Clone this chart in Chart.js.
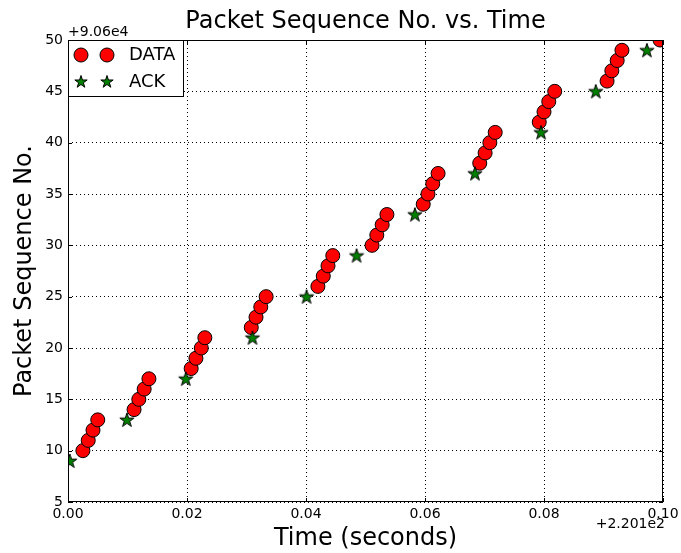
<!DOCTYPE html>
<html>
<head>
<meta charset="utf-8">
<script src="https://cdn.jsdelivr.net/npm/chart.js@4"></script>
<style>
  body { margin: 0; background: #fff; }
  #wrap { width: 681px; height: 553px; }
</style>
</head>
<body>
<div id="wrap"><canvas id="myChart" width="681" height="553"></canvas></div>
<script>
// time values are offsets from 220.1 s, sequence numbers offsets from 90600
var dataTimes = [0.0025, 0.0034, 0.0042, 0.0050,
                 0.0111, 0.0119, 0.0128, 0.0136,
                 0.0207, 0.0215, 0.0224, 0.0230,
                 0.0308, 0.0316, 0.0324, 0.0333,
                 0.0420, 0.0429, 0.0437, 0.0445,
                 0.0511, 0.0519, 0.0528, 0.0536,
                 0.0597, 0.0605, 0.0613, 0.0622,
                 0.0692, 0.0701, 0.0709, 0.0718,
                 0.0792, 0.0800, 0.0808, 0.0818,
                 0.0906, 0.0914, 0.0923, 0.0931,
                 0.0995];
var dataSeq = [10, 11, 12, 13,
               14, 15, 16, 17,
               18, 19, 20, 21,
               22, 23, 24, 25,
               26, 27, 28, 29,
               30, 31, 32, 33,
               34, 35, 36, 37,
               38, 39, 40, 41,
               42, 43, 44, 45,
               46, 47, 48, 49,
               50];
var ackTimes = [0.0003, 0.0099, 0.0198, 0.0310, 0.0401, 0.0485, 0.0583, 0.0684, 0.0795, 0.0887, 0.0973];
var ackSeq = [9, 13, 17, 21, 25, 29, 33, 37, 41, 45, 49];

var xTicks = [0.00, 0.02, 0.04, 0.06, 0.08, 0.10];
var yTicks = [5, 10, 15, 20, 25, 30, 35, 40, 45, 50];
var xOffsetLabel = '+2.201e2';
var yOffsetLabel = '+9.06e4';

var FONT = '"DejaVu Sans", "Liberation Sans", sans-serif';

function drawStar(c, cx, cy, r) {
  var inner = r * 0.382;
  c.beginPath();
  for (var i = 0; i < 10; i++) {
    var rr = i % 2 === 0 ? r : inner;
    var a = -Math.PI / 2 + i * Math.PI / 5;
    var px = cx + rr * Math.cos(a), py = cy + rr * Math.sin(a);
    if (i === 0) c.moveTo(px, py); else c.lineTo(px, py);
  }
  c.closePath();
  c.fillStyle = '#008000';
  c.fill();
  c.lineWidth = 1;
  c.strokeStyle = '#000';
  c.stroke();
}

var starImg = document.createElement('canvas');
starImg.width = 18;
starImg.height = 18;
drawStar(starImg.getContext('2d'), 9, 9.5, 7.5);

function toPoints(xs, ys) {
  return xs.map(function (x, i) { return { x: x, y: ys[i] }; });
}

var decorations = {
  id: 'decorations',
  afterDraw: function (chart) {
    var c = chart.ctx, a = chart.chartArea;
    var xs = chart.scales.x, ys = chart.scales.y;
    c.save();
    // frame
    c.strokeStyle = '#000';
    c.lineWidth = 1;
    c.strokeRect(a.left + 0.5, a.top + 0.5, a.right - a.left - 1, a.bottom - a.top - 1);
    // inner tick marks
    c.beginPath();
    xTicks.forEach(function (t) {
      var px = Math.round(xs.getPixelForValue(t)) + 0.5;
      c.moveTo(px, a.bottom); c.lineTo(px, a.bottom - 4);
      c.moveTo(px, a.top); c.lineTo(px, a.top + 4);
    });
    yTicks.forEach(function (t) {
      var py = Math.round(ys.getPixelForValue(t)) + 0.5;
      c.moveTo(a.left, py); c.lineTo(a.left + 4, py);
      c.moveTo(a.right, py); c.lineTo(a.right - 4, py);
    });
    c.stroke();

    // title and axis titles
    c.fillStyle = '#000';
    c.textAlign = 'center';
    c.textBaseline = 'alphabetic';
    c.font = '24px ' + FONT;
    var mid = (a.left + a.right) / 2;
    c.fillText('Packet Sequence No. vs. Time', mid, 28);
    c.fillText('Time (seconds)', mid, 545);
    c.save();
    c.translate(31, (a.top + a.bottom) / 2);
    c.rotate(-Math.PI / 2);
    c.fillText('Packet Sequence No.', 0, 0);
    c.restore();

    // offset labels
    c.font = '14px ' + FONT;
    c.textAlign = 'left';
    c.fillText(yOffsetLabel, a.left, 36);
    c.textAlign = 'right';
    c.fillText(xOffsetLabel, 665, 528);

    // legend
    c.fillStyle = '#fff';
    c.fillRect(a.left, a.top, 115, 56);
    c.strokeStyle = '#000';
    c.strokeRect(a.left + 0.5, a.top + 0.5, 115, 56);
    [81, 107].forEach(function (lx) {
      c.beginPath();
      c.arc(lx, 55, 7, 0, Math.PI * 2);
      c.fillStyle = '#ff0000';
      c.fill();
      c.strokeStyle = '#000';
      c.stroke();
      drawStar(c, lx, 82, 6.5);
    });
    c.fillStyle = '#000';
    c.font = '18px ' + FONT;
    c.textAlign = 'left';
    c.textBaseline = 'middle';
    c.fillText('DATA', 129, 55);
    c.fillText('ACK', 129, 82);
    c.restore();
  }
};

var ctx = document.getElementById('myChart');
var myChart = new Chart(ctx, {
  type: 'scatter',
  data: {
    datasets: [
      {
        label: 'ACK',
        data: toPoints(ackTimes, ackSeq),
        pointStyle: starImg,
        clip: 0,
        order: 0
      },
      {
        label: 'DATA',
        data: toPoints(dataTimes, dataSeq),
        backgroundColor: '#ff0000',
        borderColor: '#000000',
        borderWidth: 1,
        pointRadius: 7,
        pointHoverRadius: 7,
        clip: 0,
        order: 1
      }
    ]
  },
  options: {
    responsive: false,
    animation: false,
    events: [],
    layout: { padding: { left: 0, top: 40, right: 18, bottom: 0 } },
    plugins: {
      legend: { display: false },
      title: { display: false },
      tooltip: { enabled: false }
    },
    scales: {
      x: {
        type: 'linear',
        min: 0,
        max: 0.1,
        afterFit: function (s) { s.height = 51; s.paddingLeft = 0; s.paddingRight = 0; },
        afterBuildTicks: function (s) { s.ticks = xTicks.map(function (v) { return { value: v }; }); },
        ticks: {
          padding: 4,
          color: '#000',
          font: { family: FONT, size: 14 },
          callback: function (v) { return Number(v).toFixed(2); }
        },
        grid: { color: '#000', lineWidth: 1, drawTicks: false },
        border: { display: false, dash: [1, 3] }
      },
      y: {
        type: 'linear',
        min: 5,
        max: 50,
        afterFit: function (s) { s.width = 68; s.paddingTop = 0; s.paddingBottom = 0; },
        afterBuildTicks: function (s) { s.ticks = yTicks.map(function (v) { return { value: v }; }); },
        ticks: {
          padding: 5,
          color: '#000',
          font: { family: FONT, size: 14 },
          callback: function (v) { return String(v); }
        },
        grid: { color: '#000', lineWidth: 1, drawTicks: false },
        border: { display: false, dash: [1, 3] }
      }
    }
  },
  plugins: [decorations]
});
</script>
</body>
</html>
